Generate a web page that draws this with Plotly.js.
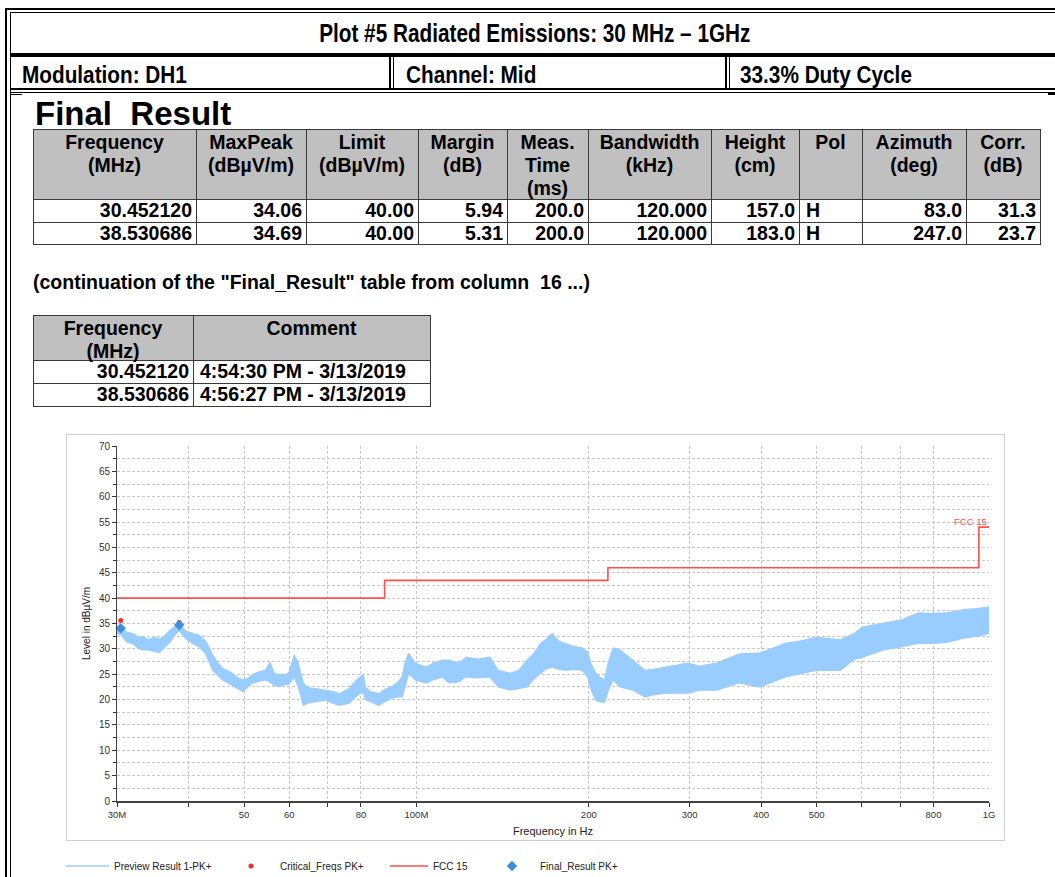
<!DOCTYPE html>
<html><head><meta charset="utf-8">
<script src="https://cdn.plot.ly/plotly-3.0.1.min.js"></script>
<style>
html,body{margin:0;padding:0;background:#fff;}
#page{position:relative;width:1055px;height:877px;overflow:hidden;font-family:"Liberation Sans",Arial,sans-serif;color:#000;background:#fff;}
.ln{position:absolute;background:#000;}
.tl{position:absolute;background:#3a3a3a;}
.t{position:absolute;white-space:nowrap;}
.nar{position:absolute;white-space:nowrap;font-weight:bold;transform-origin:left center;}
.cell{position:absolute;box-sizing:border-box;font-weight:bold;font-size:19.5px;white-space:nowrap;overflow:visible;}
#frame{position:absolute;left:66px;top:434px;width:937px;height:405px;border:1px solid #cfcfcf;}
#chart{position:absolute;left:0;top:430px;width:1055px;height:447px;}
</style></head>
<body><div id="page">
<div id="frame"></div>
<div id="chart"></div>
</div>
<script>
// ---------- report header texts ----------
const plotTitle = 'Plot #5 Radiated Emissions: 30 MHz \u2013 1GHz';
const infoCells = ['Modulation: DH1', 'Channel: Mid', '33.3% Duty Cycle'];

// ---------- Final Result table ----------
const resultHeaders = ['Frequency<br>(MHz)', 'MaxPeak<br>(dB\u00b5V/m)', 'Limit<br>(dB\u00b5V/m)', 'Margin<br>(dB)', 'Meas.<br>Time<br>(ms)', 'Bandwidth<br>(kHz)', 'Height<br>(cm)', 'Pol', 'Azimuth<br>(deg)', 'Corr.<br>(dB)'];
const resultFreq = ['30.452120', '38.530686'];
const resultMaxPeak = ['34.06', '34.69'];
const resultLimit = ['40.00', '40.00'];
const resultMargin = ['5.94', '5.31'];
const resultMeasTime = ['200.0', '200.0'];
const resultBandwidth = ['120.000', '120.000'];
const resultHeight = ['157.0', '183.0'];
const resultPol = ['H', 'H'];
const resultAzimuth = ['83.0', '247.0'];
const resultCorr = ['31.3', '23.7'];
const commentHeaders = ['Frequency<br>(MHz)', 'Comment'];
const resultComment = ['4:54:30 PM - 3/13/2019', '4:56:27 PM - 3/13/2019'];

// ---------- chart data ----------
const previewFreqMHz = [30.0,30.5,31.2,32.0,32.8,33.3,34.0,34.8,35.6,36.3,37.1,38.0,38.5,39.2,39.8,40.8,41.8,42.9,44.1,45.0,45.9,47.6,49.0,49.8,50.8,51.6,53.0,54.5,55.5,56.5,57.6,59.0,59.8,61.2,62.2,63.5,65.0,66.4,68.0,69.5,71.5,73.3,75.0,76.3,78.0,79.6,80.8,81.5,83.1,85.9,88.0,90.5,92.5,94.4,95.5,96.9,99.6,104,107,111,114,118.7,122,128,134.5,139,146,151,156,160,164.6,168,172.7,177,182,188,195,199,202,205.8,209,213,216.5,220.5,227,238.6,251,260,272,297.5,313,334,366,398,441,470,499,550,582,601,655,701,753,793,844,899,960,1000];
const previewUpper = [34.5,34.3,33.3,33.0,32.3,32.5,31.8,32.3,32.0,32.6,33.7,34.6,35.0,34.0,33.4,33.0,32.7,31.5,28.8,27.3,26.2,25.3,24.2,23.9,24.2,24.9,25.5,25.8,27.4,25.2,24.9,25.0,25.2,28.8,27.2,23.2,22.3,22.2,22.0,21.9,21.6,21.2,21.8,22.2,23.5,24.5,25.0,22.5,21.6,21.2,22.0,22.6,23.3,24.5,27.2,29.2,27.2,26.4,27.2,27.8,27.8,27.2,28.4,28.0,28.4,25.8,25.2,25.8,27.8,29.0,31.1,31.8,33.1,31.6,31.1,30.5,30.2,29.5,27.0,25.2,24.5,23.9,27.5,30.2,29.8,27.8,25.8,26.0,26.4,27.2,26.6,27.2,29.0,29.2,31.1,31.6,32.3,31.8,33.1,34.3,35.1,35.7,37.1,37.0,37.1,37.7,38.0,38.3];
const previewLower = [33.0,32.8,31.4,31.0,30.0,29.8,29.8,29.5,29.3,30.3,31.3,33.0,33.7,32.6,31.8,31.0,30.4,29.0,25.8,24.8,23.9,22.9,22.0,21.6,22.6,23.2,23.6,23.9,23.5,22.8,22.6,23.0,23.0,24.5,22.6,18.9,19.4,19.6,19.8,19.9,19.3,18.9,19.1,19.3,20.4,21.2,21.5,20.0,19.6,18.9,19.6,20.3,20.5,20.6,22.5,25.2,23.9,23.3,23.9,24.5,23.3,23.5,24.5,24.3,24.5,22.5,21.9,22.2,22.5,24.0,25.2,26.0,26.4,26.0,25.8,26.0,25.8,24.6,22.0,19.9,19.6,19.5,22.0,23.9,22.5,21.9,20.5,21.0,21.3,21.3,21.9,21.9,23.3,22.5,24.5,25.2,25.8,25.8,28.0,28.4,29.8,30.4,31.1,31.1,31.3,32.1,32.6,33.1];
const limitFreqMHz = [30, 88, 216, 960, 1000];
const limitLevel = [40, 43.5, 46, 54, 54];
const criticalFreqMHz = [30.452120, 38.530686];
const criticalLevel = [35.6, 35.2];
const xTickVals = [30,40,50,60,70,80,100,200,300,400,500,600,700,800,1000];
const xTickText = ['30M','','50','60','','80','100M','200','300','400','500','','','800','1G'];

// ---------- build report page ----------
const page = document.getElementById('page');
function el(cls, css, html) {
  const d = document.createElement('div');
  d.className = cls;
  Object.assign(d.style, css);
  if (html !== undefined) d.innerHTML = html;
  page.appendChild(d);
  return d;
}
function px(v) { return v + 'px'; }
function line(cls, x, y, w, h) { el(cls, {left:px(x), top:px(y), width:px(w), height:px(h)}); }

// outer double frame
line('ln', 5, 8, 1050, 2);
line('ln', 10, 12, 1045, 1);
line('ln', 5, 8, 2, 869);
line('ln', 10, 12, 1, 865);
// title row separator
line('ln', 10, 53, 1045, 4);
// info row bottom (double)
line('ln', 10, 88, 1045, 2);
line('ln', 10, 92, 1045, 1);
line('ln', 10, 94, 12, 1);
line('ln', 1048, 93, 7, 2);
// info row column separators
line('ln', 389, 57, 2, 31);
line('ln', 393, 57, 1, 31);
line('ln', 725, 57, 2, 31);
line('ln', 729, 57, 1, 31);

// title
el('nar', {left:'0px', top:'20px', width:'1070px', textAlign:'center', fontSize:'25px', lineHeight:'26px'},
   '<span style="display:inline-block;transform:scaleX(0.83);">' + plotTitle + '</span>');
const infoX = [22, 406, 740];
infoCells.forEach((s, i) => {
  el('nar', {left:px(infoX[i]), top:'62px', fontSize:'24px', lineHeight:'26px', transform:'scaleX(0.865)'}, s);
});

// Final Result heading
el('t', {left:'35px', top:'97px', fontSize:'33px', lineHeight:'33px', fontWeight:'bold'}, 'Final&nbsp; Result');

// table helper
function drawTable(colEdges, rowEdges, headers, rows, aligns) {
  const x0 = colEdges[0], x1 = colEdges[colEdges.length-1];
  el('t', {left:px(x0), top:px(rowEdges[0]), width:px(x1-x0), height:px(rowEdges[1]-rowEdges[0]), background:'#c0c0c0'});
  rowEdges.forEach(y => line('tl', x0, y, x1-x0+1, 1));
  colEdges.forEach(x => line('tl', x, rowEdges[0], 1, rowEdges[rowEdges.length-1]-rowEdges[0]+1));
  headers.forEach((h, c) => {
    el('cell', {left:px(colEdges[c]), top:px(rowEdges[0]+2), width:px(colEdges[c+1]-colEdges[c]), textAlign:'center', lineHeight:'23px'}, h);
  });
  rows.forEach((r, ri) => {
    const top = rowEdges[ri+1], h = rowEdges[ri+2]-rowEdges[ri+1];
    r.forEach((v, c) => {
      const left = aligns[c] === 'left';
      el('cell', {left:px(colEdges[c]+1), top:px(top), width:px(colEdges[c+1]-colEdges[c]-1), height:px(h),
        lineHeight:px(h), textAlign: left ? 'left' : 'right', paddingRight: left ? '0' : '4px', paddingLeft: left ? '6px' : '0'}, v);
    });
  });
}
const t1Cols = [33,196,306,418,507,588,711,799,862,966,1040];
const t1Rows = [129,199,222,244];
const t1Data = resultFreq.map((f, i) => [f, resultMaxPeak[i], resultLimit[i], resultMargin[i], resultMeasTime[i], resultBandwidth[i], resultHeight[i], resultPol[i], resultAzimuth[i], resultCorr[i]]);
drawTable(t1Cols, t1Rows, resultHeaders, t1Data, ['r','r','r','r','r','r','r','left','r','r']);

el('t', {left:'33px', top:'270px', fontSize:'19.5px', lineHeight:'24px', fontWeight:'bold'}, '(continuation of the "Final_Result" table from column&nbsp; 16 ...)');

const t2Cols = [33,193,430];
const t2Rows = [315,360,383,406];
const t2Data = resultFreq.map((f, i) => [f, resultComment[i]]);
drawTable(t2Cols, t2Rows, commentHeaders, t2Data, ['r','left']);

// ---------- chart ----------
const finalFreqMHz = resultFreq.map(Number);
const finalLevel = resultMaxPeak.map(Number);
const gridCol = '#c9c9c9';
const traces = [
  {x: previewFreqMHz, y: previewLower, mode:'lines', line:{color:'#99ccff', width:1.5}, name:'Preview Result 1-PK+', legend:'legend', hoverinfo:'skip'},
  {x: previewFreqMHz, y: previewUpper, mode:'lines', line:{color:'#99ccff', width:1}, fill:'tonexty', fillcolor:'#99ccff', showlegend:false, hoverinfo:'skip'},
  {x: limitFreqMHz, y: limitLevel, mode:'lines', line:{color:'#ff5050', width:1.6, shape:'hv'}, name:'FCC 15', legend:'legend3'},
  {x: criticalFreqMHz, y: criticalLevel, mode:'markers', marker:{color:'#ff2a2a', size:5, symbol:'circle'}, name:'Critical_Freqs PK+', legend:'legend2'},
  {x: finalFreqMHz, y: finalLevel, mode:'markers', marker:{color:'#3d8fdc', size:8, symbol:'diamond'}, name:'Final_Result PK+', legend:'legend4'}
];
const lfont = {family:'"Liberation Sans", Arial, sans-serif', size:10, color:'#222'};
function leg(pagex, w) {
  return {x:(pagex-117)/872, xanchor:'left', y:-0.183, yanchor:'middle', orientation:'h', itemwidth:w,
          font:lfont, bgcolor:'rgba(0,0,0,0)', borderwidth:0};
}
const layout = {
  width:1055, height:447,
  margin:{l:117, r:66, t:16, b:76, autoexpand:false},
  paper_bgcolor:'rgba(0,0,0,0)', plot_bgcolor:'rgba(0,0,0,0)',
  font:{family:'"Liberation Sans", Arial, sans-serif', size:10, color:'#333'},
  showlegend:true,
  xaxis:{type:'log', range:[Math.log10(30), Math.log10(1000)], tickmode:'array', tickvals:xTickVals, ticktext:xTickText,
    ticks:'outside', ticklen:4, tickcolor:'#333', showline:true, linecolor:'#444', linewidth:1.5,
    showgrid:true, gridcolor:gridCol, griddash:'3px,2px', gridwidth:1, zeroline:false, automargin:false,
    tickfont:{size:9.5, color:'#333'},
    title:{text:'Frequency in Hz', font:{size:11, color:'#222'}, standoff:8}},
  yaxis:{range:[0,70], tick0:0, dtick:5, ticks:'outside', ticklen:4, tickcolor:'#333', showline:true, linecolor:'#444', linewidth:1,
    showgrid:true, gridcolor:gridCol, griddash:'3px,2px', gridwidth:1, zeroline:false, automargin:false,
    tickfont:{size:10, color:'#333'},
    minor:{dtick:2.5, tick0:0, showgrid:true, gridcolor:gridCol, griddash:'3px,2px', gridwidth:1, ticks:'outside', ticklen:3, tickcolor:'#333'},
    title:{text:'Level in dB\u00b5V/m', font:{size:10, color:'#222'}, standoff:6}},
  legend: leg(61, 43), legend2: leg(222, 48), legend3: leg(385, 38), legend4: leg(484, 46),
  annotations:[{xref:'x', yref:'y', x:Math.log10(limitFreqMHz[limitFreqMHz.length-1]), y:limitLevel[limitLevel.length-1],
    text:'FCC 15', showarrow:false, xanchor:'right', yanchor:'bottom', font:{size:9.5, color:'#ff5050'}, xshift:0, yshift:-2}]
};
Plotly.newPlot('chart', traces, layout, {staticPlot:true, displayModeBar:false});
</script>
</body></html>
